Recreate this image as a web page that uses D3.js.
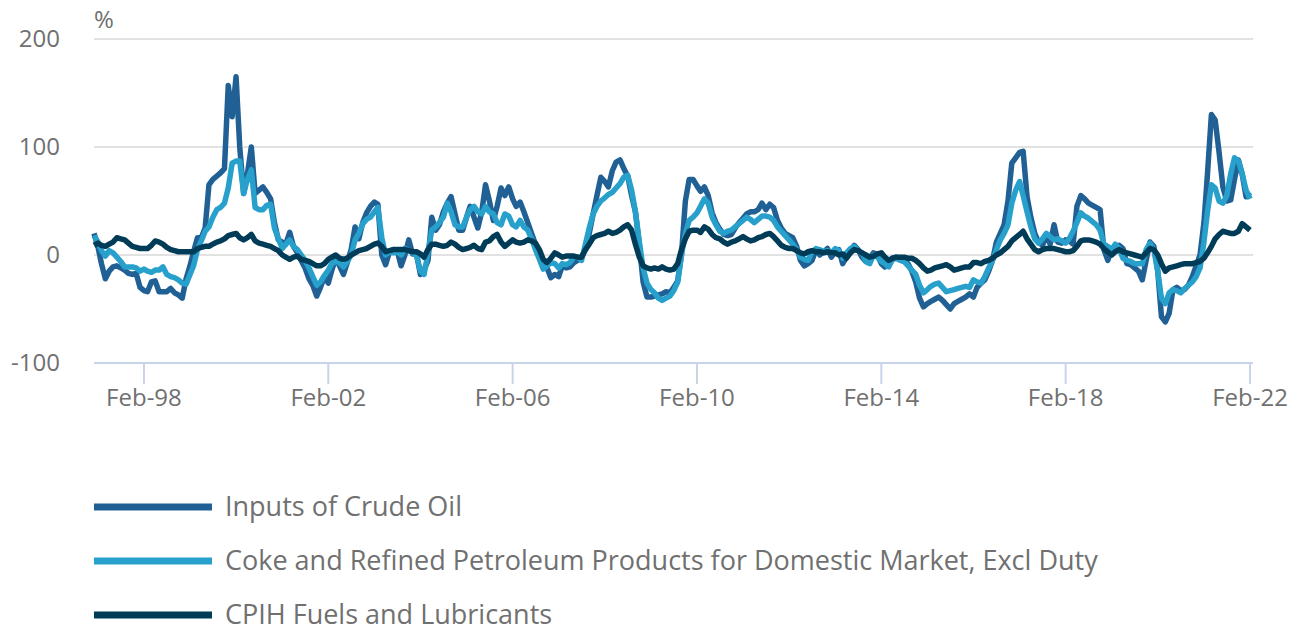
<!DOCTYPE html>
<html>
<head>
<meta charset="utf-8">
<script src="https://cdn.jsdelivr.net/npm/d3@7"></script>
<style>
  body { margin: 0; background: #fff; }
  svg text { font-family: "Open Sans", sans-serif; fill: #707070; }
</style>
</head>
<body>
<svg id="chart" width="1301" height="628"></svg>
<script>
// Monthly series, Jan-97 .. Feb-22 (one row per year)
const startMonth = "1997-01";

const crudeOil = [
  20, 8, -8, -22, -15, -11, -10, -12, -14, -17, -18, -17,
  -30, -33, -34, -25, -24, -34, -34, -34, -31, -35, -37, -40,
  -22, -10, 3, 16, 16, 25, 65, 70, 73, 76, 80, 157,
  128, 165, 100, 57, 75, 100, 57, 60, 63, 58, 52, 30,
  14, 12, 10, 21, 8, 2, -5, -12, -22, -28, -38, -30,
  -20, -26, -14, -3, -10, -18, -7, 5, 26, 15, 30, 39,
  45, 49, 47, 0, -9, 3, 5, 4, -10, 0, 14, 1,
  1, -18, -14, -5, 35, 23, 28, 40, 48, 54, 38, 23,
  23, 35, 45, 35, 25, 40, 65, 50, 32, 45, 62, 55,
  63, 52, 45, 49, 40, 30, 20, 10, 3, -8, -12, -21,
  -18, -20, -10, -12, -11, -7, -5, -2, 5, 20, 38, 55,
  72, 68, 63, 78, 86, 88, 80, 73, 55, 40, 10, -25,
  -39, -39, -38, -37, -36, -34, -35, -30, -24, 0, 50, 70,
  70, 64, 59, 63, 55, 39, 30, 24, 19, 18, 19, 25,
  30, 34, 38, 40, 40, 42, 48, 42, 47, 44, 32, 25,
  20, 18, 16, 8, -5, -10, -8, -5, 5, 0, 3, 6,
  -2, 3, 5, -8, -2, 3, 9, 5, -2, -6, -3, 2,
  0, -8, -11, -6, -3, -2, -4, -6, -8, -15, -25, -40,
  -48, -45, -43, -41, -39, -42, -46, -50, -45, -43, -41, -39,
  -36, -39, -30, -26, -23, -15, -5, 12, 20, 28, 50, 85,
  90, 95, 96, 54, 35, 20, 12, 9, 18, 10, 28, 12,
  11, 14, 13, 10, 45, 55, 52, 48, 46, 44, 42, 5,
  -5, 5, 8, 9, 6, -8, -9, -12, -15, -23, -5, 12,
  8, -15, -57, -62, -54, -32, -30, -33, -32, -28, -20, -10,
  0, 30, 75, 130, 125, 95, 63, 50, 51, 70, 88, 75,
  54, 58
];

const refinedProducts = [
  18, 12, 4, -1, 4, 2, -2, -6, -11, -11, -11, -12,
  -15, -13, -15, -16, -14, -14, -11, -18, -20, -21, -23, -26,
  -27, -18, -10, 5, 13, 22, 26, 35, 42, 44, 48, 62,
  85, 87, 87, 57, 70, 79, 44, 42, 42, 46, 47, 25,
  15, 6, 10, 14, 8, 5, 0, -5, -12, -20, -28, -25,
  -19, -14, -8, -6, -7, -11, -6, 0, 14, 20, 29, 33,
  35, 40, 44, 16, 0, 3, 2, 3, 0, 6, 4, 2,
  0, -15, -18, 2, 23, 26, 30, 35, 48, 40, 28, 26,
  26, 35, 42, 45, 40, 38, 45, 40, 38, 30, 28, 38,
  36, 28, 26, 32, 26, 23, 15, 5, -4, -13, -10, -7,
  -8, -12, -8, -9, -7, -2, -2, -5, 10, 25, 38, 45,
  50, 53, 56, 58, 62, 66, 72, 74, 60, 40, 12, -12,
  -26, -32, -35, -40, -42, -40, -38, -33, -25, 0, 20, 32,
  35, 39, 45, 52, 48, 35, 28, 22, 20, 22, 23, 26,
  29, 32, 35, 33, 30, 33, 36, 36, 35, 32, 26, 22,
  18, 14, 10, 5, -2, -4, -5, 3, 6, 5, 3, 4,
  2, 6, 4, -3, 2, 6, 8, 4, 2, -6, -8, 0,
  -2, -6, -8, -11, -4, -3, -5, -6, -10, -14, -18, -28,
  -35, -32, -29, -27, -26, -30, -34, -33, -32, -31, -30, -29,
  -30, -23, -25, -26, -20, -12, -5, 5, 14, 20, 28, 48,
  60, 68, 55, 40, 26, 15, 11, 15, 20, 17, 14, 15,
  13, 11, 15, 22, 30, 39, 36, 34, 31, 28, 23, 10,
  8, 5, 10, 6, -3, -5, -6, -8, -8, -8, 5, 11,
  5, -15, -40, -45, -35, -32, -33, -35, -31, -28, -25, -20,
  -12, 12, 40, 65, 62, 50, 48, 55, 75, 90, 87, 75,
  60, 52
];

const cpihFuels = [
  9, 11, 9, 8, 10, 12, 16, 15, 14, 11, 8, 7,
  6, 6, 6, 9, 13, 12, 10, 7, 5, 4, 3, 3,
  3, 3, 3, 6, 7, 8, 8, 10, 12, 13, 15, 18,
  19, 20, 16, 14, 16, 19, 13, 11, 10, 9, 8, 6,
  4, 0, -2, -4, -2, -1, -4, -5, -6, -8, -10, -10,
  -8, -4, -2, 0, -3, -4, -3, 0, 2, 4, 5, 6,
  8, 10, 11, 8, 3, 4, 5, 5, 5, 5, 4, 3,
  3, 1, -2, 5, 10, 10, 9, 8, 9, 12, 10, 7,
  5, 6, 7, 9, 6, 5, 12, 13, 17, 19, 12, 8,
  11, 14, 12, 11, 12, 14, 13, 11, 5, -4, -7, -3,
  2, 0, -2, -1, -1, -1, -2, -2, 5, 10, 16, 18,
  19, 20, 22, 20, 21, 23, 26, 28, 23, 10, -2, -10,
  -12, -13, -12, -13, -11, -13, -14, -13, -8, 5, 15, 22,
  23, 23, 21, 26, 24, 19, 16, 15, 12, 10, 12, 13,
  15, 17, 15, 13, 14, 16, 17, 19, 20, 17, 13, 9,
  7, 6, 6, 4, 2, 1, 3, 4, 3, 3, 2, 3,
  2, 2, 0, 1, -3, 2, 5, 4, 2, 0, -2, -1,
  1, 2, -2, -5, -3, -2, -2, -2, -3, -3, -5, -8,
  -12, -15, -14, -12, -11, -10, -9, -11, -14, -13, -12, -11,
  -11, -7, -7, -8, -6, -5, -3, 0, 2, 5, 8, 13,
  16, 19, 22, 15, 10, 5, 3, 5, 6, 6, 6, 5,
  4, 3, 3, 4, 8, 13, 14, 14, 13, 12, 10, 6,
  3, 0, 3, 5, 3, 2, 1, 0, -1, -2, 2, 6,
  5, 0, -8, -15, -12, -11, -10, -9, -8, -8, -8, -7,
  -6, -3, 2, 8, 15, 19, 22, 21, 20, 20, 22, 29,
  26, 23
];

const seriesNames = [
  "Inputs of Crude Oil",
  "Coke and Refined Petroleum Products for Domestic Market, Excl Duty",
  "CPIH Fuels and Lubricants"
];
const seriesColors = ["#206095", "#27a0cc", "#003c57"];

const yTicks = [-100, 0, 100, 200];
const xTickMonths = ["1998-02", "2002-02", "2006-02", "2010-02", "2014-02", "2018-02", "2022-02"];

// ---- build
const parseMonth = d3.utcParse("%Y-%m");
const t0 = parseMonth(startMonth);
const dateAt = i => d3.utcMonth.offset(t0, i);

const allSeries = [crudeOil, refinedProducts, cpihFuels].map((vals, k) => ({
  name: seriesNames[k],
  color: seriesColors[k],
  values: vals.map((v, i) => ({ date: dateAt(i), value: v }))
}));

const svg = d3.select("#chart");

const x = d3.scaleUtc()
  .domain([t0, dateAt(crudeOil.length - 1)])
  .range([94, 1250]);

const y = d3.scaleLinear()
  .domain([-100, 200])
  .range([363, 39]);

// gridlines
svg.append("g")
  .selectAll("line")
  .data(yTicks.filter(v => v !== -100))
  .join("line")
    .attr("x1", 94).attr("x2", 1253)
    .attr("y1", d => y(d)).attr("y2", d => y(d))
    .attr("stroke", "#e2e2e2")
    .attr("stroke-width", 2);

// y labels
svg.append("g")
  .selectAll("text")
  .data(yTicks)
  .join("text")
    .attr("x", 60)
    .attr("y", d => y(d))
    .attr("dy", "0.35em")
    .attr("text-anchor", "end")
    .attr("font-size", 24)
    .text(d => d);

svg.append("text")
  .attr("x", 94).attr("y", 20).attr("dy", "0.35em")
  .attr("font-size", 24)
  .text("%");

// x axis
const xAxis = svg.append("g");
xAxis.append("line")
  .attr("x1", 94).attr("x2", 1253)
  .attr("y1", y(-100)).attr("y2", y(-100))
  .attr("stroke", "#c9d3ea").attr("stroke-width", 2);

const tickDates = xTickMonths.map(parseMonth);
xAxis.selectAll("line.tick")
  .data(tickDates)
  .join("line")
    .attr("class", "tick")
    .attr("x1", d => x(d)).attr("x2", d => x(d))
    .attr("y1", y(-100)).attr("y2", y(-100) + 21)
    .attr("stroke", "#c9d3ea").attr("stroke-width", 2);

xAxis.selectAll("text")
  .data(tickDates)
  .join("text")
    .attr("x", d => x(d))
    .attr("y", 398)
    .attr("dy", "0.35em")
    .attr("text-anchor", "middle")
    .attr("font-size", 24)
    .text(d => d3.utcFormat("%b-%y")(d));

// lines
const line = d3.line()
  .x(d => x(d.date))
  .y(d => y(d.value));

svg.append("g")
  .selectAll("path")
  .data(allSeries)
  .join("path")
    .attr("fill", "none")
    .attr("stroke", d => d.color)
    .attr("stroke-width", 5.5)
    .attr("stroke-linejoin", "round")
    .attr("d", d => line(d.values));

// legend
const legend = svg.append("g")
  .selectAll("g")
  .data(allSeries)
  .join("g")
    .attr("transform", (d, i) => `translate(94,${507 + i * 54})`);

legend.append("line")
  .attr("x1", 0).attr("x2", 118)
  .attr("stroke", d => d.color)
  .attr("stroke-width", 7);

legend.append("text")
  .attr("x", 131)
  .attr("dy", "0.35em")
  .attr("font-size", 27)
  .text(d => d.name);
</script>
</body>
</html>
